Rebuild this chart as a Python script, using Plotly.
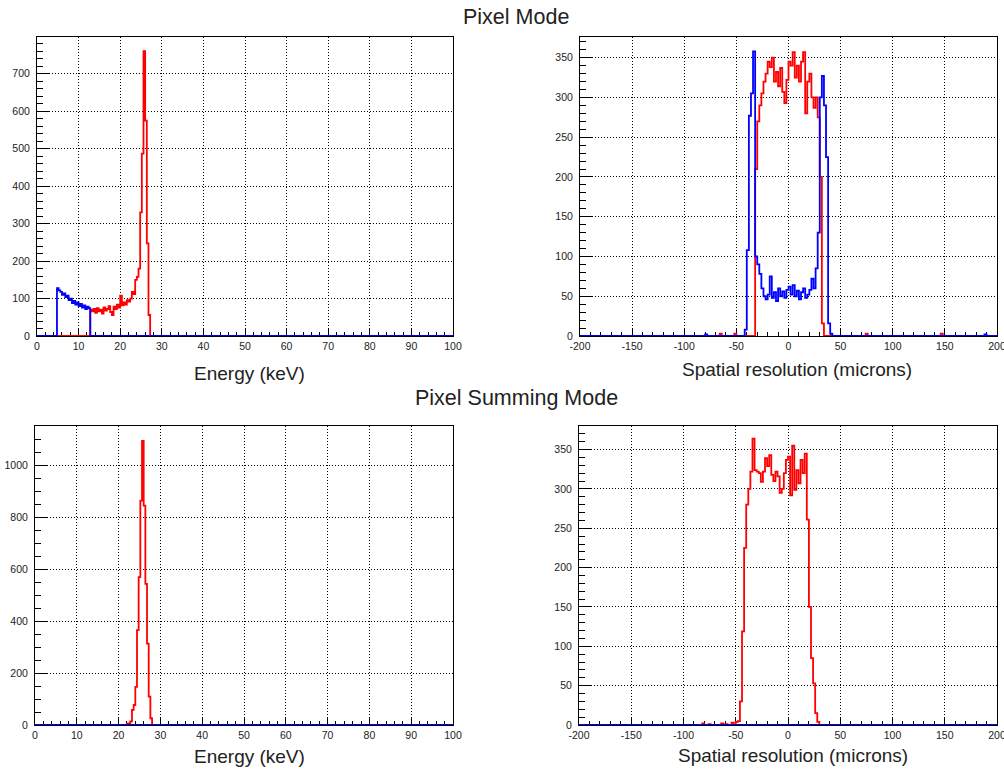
import numpy as np
import plotly.graph_objects as go

# ---------------- data (counts per bin) ----------------
energy_range = (0.0, 100.0)
energy_bin = 0.4
spatial_range = (-200.0, 200.0)
spatial_bin = 2.0

# Pixel Mode - energy
pm_energy_blue_start = 4.8
pm_energy_blue_counts = [128, 122, 118, 110, 114, 104, 108, 96, 100, 88,
                         94, 84, 90, 80, 86, 76, 82, 72, 78, 74]
pm_energy_red_start = 12.8
pm_energy_red_counts = [70, 66, 72, 62, 74, 66, 70, 60, 76, 68,
                        72, 80, 64, 56, 78, 72, 84, 76, 108, 82,
                        90, 84, 96, 92, 100, 118, 112, 150, 158, 180,
                        330, 487, 760, 575, 247, 56]

# Pixel Mode - spatial
pm_spatial_blue_start = -42
pm_spatial_blue_counts = [8, 108, 277, 305, 358, 100, 90, 78, 60, 50,
                          46, 52, 75, 48, 55, 44, 60, 50, 56, 48,
                          58, 62, 52, 64, 50, 57, 46, 55, 60, 48,
                          52, 58, 72, 60, 85, 130, 300, 327, 290, 225,
                          16, 3]
pm_spatial_blue_sparse_x = [-80, 188]
pm_spatial_blue_sparse_y = [2, 2]
pm_spatial_red_start = -32
pm_spatial_red_counts = [210, 270, 290, 305, 320, 330, 345, 338, 350, 320,
                         332, 314, 337, 307, 293, 322, 345, 340, 357, 325,
                         340, 320, 345, 357, 280, 320, 330, 300, 287, 300,
                         275, 200, 16]
pm_spatial_red_sparse_x = [-66, -52, 74, 146]
pm_spatial_red_sparse_y = [3, 3, 3, 3]

# Pixel Summing Mode - energy
ps_energy_blue_start = 0.0
ps_energy_blue_counts = []
ps_energy_red_start = 22.0
ps_energy_red_counts = [5, 6, 14, 58, 77, 147, 365, 569, 863, 1093,
                        844, 543, 313, 109, 26]

# Pixel Summing Mode - spatial
ps_spatial_blue_start = 0.0
ps_spatial_blue_counts = []
ps_spatial_red_start = -46
ps_spatial_red_counts = [30, 119, 225, 280, 300, 322, 364, 324, 322, 320,
                         309, 322, 339, 329, 343, 318, 310, 322, 316, 295,
                         300, 320, 337, 341, 292, 355, 299, 324, 307, 337,
                         320, 345, 261, 150, 85, 53, 15, 4]
ps_spatial_red_sparse_x = [-82, -76, -64, -60, -54, -50, -48]
ps_spatial_red_sparse_y = [2, 1, 2, 1, 3, 4, 5]

titles = ["Pixel Mode", "Pixel Summing Mode"]
x_titles = ["Energy (keV)", "Spatial resolution (microns)"]
spatial_tickvals = [-200, -150, -100, -50, 0, 50, 100, 150, 200]
spatial_ticktext = ["-200", "-150", "-100", "-50", "0", "50", "100", "150", "200"]


def hist_xy(rng, width, start, counts, sx=(), sy=()):
    lo, hi = rng
    n = int(round((hi - lo) / width))
    c = np.zeros(n)
    i0 = int(round((start - lo) / width))
    if len(counts):
        c[i0:i0 + len(counts)] = counts
    for x, v in zip(sx, sy):
        c[int(round((x - lo) / width))] = v
    edges = lo + width * np.arange(n + 1)
    return edges, np.append(c, c[-1])


RED = "#ff0000"
BLUE = "#0000ff"
LW = 1.8

fig = go.Figure()

panels = [
    ("", energy_range, energy_bin,
     (pm_energy_blue_start, pm_energy_blue_counts, (), ()),
     (pm_energy_red_start, pm_energy_red_counts, (), ())),
    ("2", spatial_range, spatial_bin,
     (pm_spatial_blue_start, pm_spatial_blue_counts, pm_spatial_blue_sparse_x, pm_spatial_blue_sparse_y),
     (pm_spatial_red_start, pm_spatial_red_counts, pm_spatial_red_sparse_x, pm_spatial_red_sparse_y)),
    ("3", energy_range, energy_bin,
     (ps_energy_blue_start, ps_energy_blue_counts, (), ()),
     (ps_energy_red_start, ps_energy_red_counts, (), ())),
    ("4", spatial_range, spatial_bin,
     (ps_spatial_blue_start, ps_spatial_blue_counts, (), ()),
     (ps_spatial_red_start, ps_spatial_red_counts, ps_spatial_red_sparse_x, ps_spatial_red_sparse_y)),
]

for suf, rng, w, blue, red in panels:
    for spec, col in ((red, RED), (blue, BLUE)):
        x, y = hist_xy(rng, w, *spec)
        fig.add_trace(go.Scatter(x=x, y=y, mode="lines", line=dict(color=col, width=LW, shape="hv"),
                                 xaxis="x" + suf, yaxis="y" + suf, showlegend=False, hoverinfo="skip"))

W, H = 1004, 772


def xd(a, b):
    return [a / W, b / W]


def yd(top, bot):
    return [1 - bot / H, 1 - top / H]


tickfont = dict(family="Liberation Sans, Arial, sans-serif", size=10.5, color="#222222")
grid = dict(showgrid=True, gridcolor="black", griddash="1px,2px", gridwidth=1)


def xaxis(domain, rng, dtick, mdtick, anchor, spatial=False):
    d = dict(domain=domain, range=list(rng), dtick=dtick, tick0=rng[0], anchor=anchor,
             showline=True, mirror=True, linecolor="black", linewidth=1,
             ticks="inside", ticklen=8, tickcolor="black", tickwidth=1,
             minor=dict(ticks="inside", ticklen=4, dtick=mdtick, tickcolor="black", showgrid=False),
             zeroline=False, tickfont=tickfont, layer="below traces", fixedrange=True,
             automargin=False, ticklabeloverflow="allow", **grid)
    if spatial:
        d.update(tickmode="array", tickvals=spatial_tickvals, ticktext=spatial_ticktext)
        d["minor"].update(tick0=rng[0])
    return d


def yaxis(domain, rng, dtick, mdtick, anchor):
    return dict(domain=domain, range=list(rng), dtick=dtick, tick0=0, anchor=anchor,
                showline=True, mirror=True, linecolor="black", linewidth=1,
                ticks="inside", ticklen=12, tickcolor="black", tickwidth=1,
                minor=dict(ticks="inside", ticklen=6, dtick=mdtick, tickcolor="black", showgrid=False),
                zeroline=False, tickfont=tickfont, ticklabelstandoff=4, layer="below traces",
                fixedrange=True, automargin=False, ticklabeloverflow="allow", **grid)


fig.update_layout(
    width=W, height=H, margin=dict(l=0, r=0, t=0, b=0, autoexpand=False),
    paper_bgcolor="white", plot_bgcolor="white",
    xaxis=xaxis(xd(37, 453), energy_range, 10, 2, "y"),
    yaxis=yaxis(yd(37, 336), (0, 798), 100, 20, "x"),
    xaxis2=xaxis(xd(580, 997), spatial_range, 50, 10, "y2", spatial=True),
    yaxis2=yaxis(yd(37, 336), (0, 376), 50, 10, "x2"),
    xaxis3=xaxis(xd(35, 453), energy_range, 10, 2, "y3"),
    yaxis3=yaxis(yd(426, 725), (0, 1150), 200, 50, "x3"),
    xaxis4=xaxis(xd(579, 997), spatial_range, 50, 10, "y4", spatial=True),
    yaxis4=yaxis(yd(426, 725), (0, 380), 50, 10, "x4"),
)

txt = "#222222"
fam = "Liberation Sans, Arial, sans-serif"
ann = [
    (516, 17, titles[0], 21.5),
    (516, 398, titles[1], 21.5),
    (249, 374, x_titles[0], 19),
    (797, 370, x_titles[1], 19),
    (249, 756, x_titles[0], 19),
    (793, 755, x_titles[1], 19),
]
for x, y, t, s in ann:
    fig.add_annotation(x=x / W, y=1 - y / H, xref="paper", yref="paper", text=t, showarrow=False,
                       xanchor="center", yanchor="middle", font=dict(family=fam, size=s, color=txt))

fig.write_html("out.html", config={"displayModeBar": False},
               post_script="document.body.style.margin='0';document.body.style.overflow='hidden';")
